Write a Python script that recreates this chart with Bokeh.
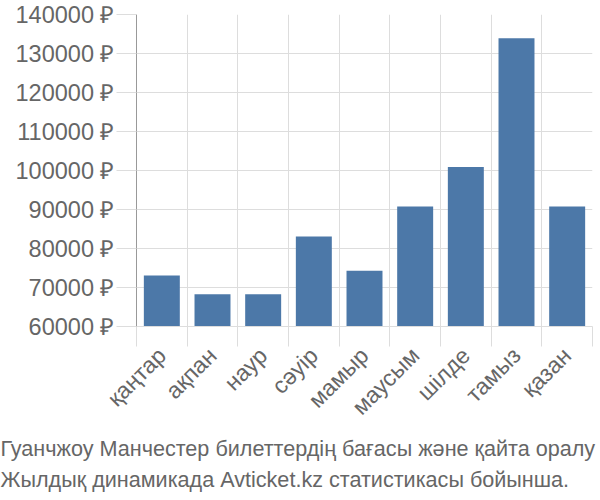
import math
from bokeh.plotting import figure
from bokeh.models import Range1d, FixedTicker, PrintfTickFormatter, Title
from bokeh.embed import file_html
from bokeh.resources import INLINE

months = ["қаңтар", "ақпан", "наур", "сәуір", "мамыр", "маусым", "шілде", "тамыз", "қазан"]
prices = [73100, 68300, 68300, 83100, 74300, 90800, 100900, 133900, 90800]
y_ticks = [60000, 70000, 80000, 90000, 100000, 110000, 120000, 130000, 140000]
caption_lines = [
    "Гуанчжоу Манчестер билеттердің бағасы және қайта оралу",
    "Жылдық динамикада Avticket.kz статистикасы бойынша.",
]

FONT = "Liberation Sans"
TEXT = "#666666"
GRID = "#dddddd"

x = list(range(len(months)))
bounds = [i - 0.5 for i in range(len(months) + 1)]

p = figure(width=600, height=500, output_backend="svg", toolbar_location=None,
           x_range=Range1d(-0.5, len(months) - 0.5),
           y_range=Range1d(y_ticks[0], y_ticks[-1]),
           min_border_left=136, min_border_right=8, min_border_top=14,
           min_border_bottom=174)
p.outline_line_color = None
p.background_fill_color = "white"
p.border_fill_color = "white"

p.vbar(x=x, top=prices, bottom=y_ticks[0], width=0.71,
       fill_color="#4c78a8", line_color=None)

# x axis
xa = p.xaxis[0]
xa.ticker = FixedTicker(ticks=x, minor_ticks=bounds)
xa.major_label_overrides = {i: m for i, m in zip(x, months)}
xa.major_label_orientation = math.pi / 4
xa.major_tick_out = 0
xa.major_tick_in = 0
xa.minor_tick_out = 20
xa.minor_tick_in = 0
xa.minor_tick_line_color = GRID
xa.axis_line_color = GRID
xa.major_label_text_font = FONT
xa.major_label_text_font_size = "23px"
xa.major_label_text_color = TEXT
xa.major_label_standoff = 5

p.xgrid.ticker = FixedTicker(ticks=bounds)
p.xgrid.grid_line_color = GRID

# y axis
ya = p.yaxis[0]
ya.ticker = FixedTicker(ticks=y_ticks)
ya.formatter = PrintfTickFormatter(format="%d ₽")
ya.major_tick_out = 20
ya.major_tick_in = 0
ya.major_tick_line_color = GRID
ya.minor_tick_line_color = None
ya.axis_line_color = "#999999"
ya.major_label_text_font = FONT
ya.major_label_text_font_size = "23.5px"
ya.major_label_text_color = TEXT
ya.major_label_standoff = 2
p.ygrid.grid_line_color = GRID

for line in caption_lines:
    p.add_layout(Title(text=line, align="left", offset=-136,
                       text_font=FONT, text_font_size="21.6px",
                       text_color=TEXT, text_font_style="normal",
                       standoff=4), "below")

open("out.html", "w").write(file_html(p, INLINE))
